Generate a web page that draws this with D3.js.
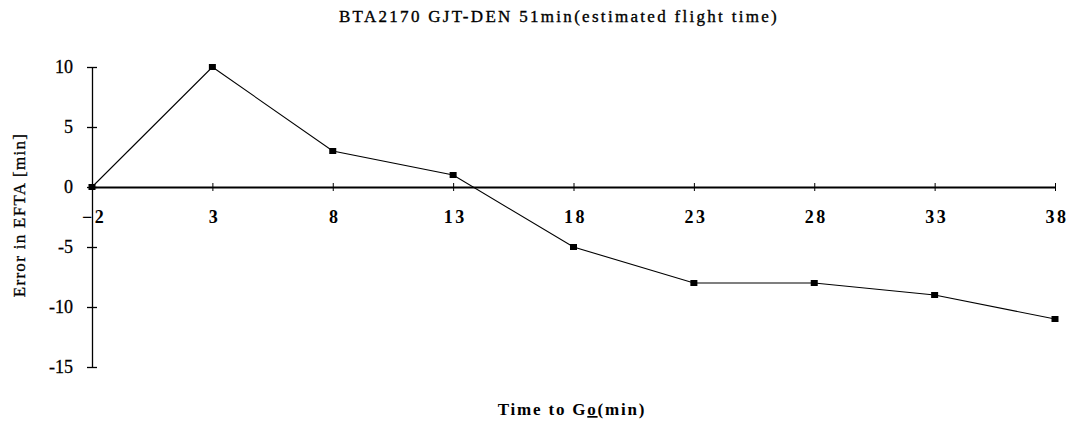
<!DOCTYPE html>
<html>
<head>
<meta charset="utf-8">
<script src="https://cdn.jsdelivr.net/npm/d3@7"></script>
<style>
  body { margin: 0; background: #fff; }
  svg { display: block; }
</style>
</head>
<body>
<div id="chart"></div>
<script>
(function () {
  'use strict';

  // ── Data ──
  var TIME_TO_GO = [-2, 3, 8, 13, 18, 23, 28, 33, 38];
  var ERROR_EFTA = [0, 10, 3, 1, -5, -8, -8, -9, -11];
  var Y_TICKS = [10, 5, 0, -5, -10, -15];

  // ── Constants ──
  var WIDTH = 1072;
  var HEIGHT = 429;
  var FONT = '"Liberation Serif", "Times New Roman", serif';
  var MARGIN = { top: 67, right: 17, bottom: 62, left: 92 };

  var svg = d3.select('#chart').append('svg')
    .attr('width', WIDTH)
    .attr('height', HEIGHT);

  var x = d3.scaleLinear().domain([-2, 38]).range([MARGIN.left, WIDTH - MARGIN.right]);
  var y = d3.scaleLinear().domain([-15, 10]).range([HEIGHT - MARGIN.bottom, MARGIN.top]);

  // ── Title ──
  svg.append('text')
    .attr('x', 559).attr('y', 22)
    .attr('text-anchor', 'middle')
    .attr('font-family', FONT).attr('font-size', 17)
    .attr('letter-spacing', 2.3)
    .attr('stroke', '#000').attr('stroke-width', 0.35)
    .text('BTA2170 GJT-DEN 51min(estimated flight time)');

  // ── Y axis ──
  var yAxis = svg.append('g')
    .attr('transform', 'translate(' + x(-2) + ',0)')
    .call(d3.axisLeft(y).tickValues(Y_TICKS).tickSize(5).tickSizeOuter(0).tickPadding(14)
      .tickFormat(d3.format('d')));
  yAxis.select('.domain').attr('stroke', '#000').attr('stroke-width', 1.3);
  yAxis.selectAll('.tick line').attr('x2', 5).attr('x1', -5).attr('stroke-width', 1.3);
  yAxis.selectAll('.tick text')
    .attr('font-family', FONT).attr('font-size', 18).attr('fill', '#000')
    .attr('stroke', '#000').attr('stroke-width', 0.3)
    .text(function (d) { return d < 0 ? '-' + Math.abs(d) : d; });

  // ── X axis on zero line ──
  var xAxis = svg.append('g')
    .attr('transform', 'translate(0,' + y(0) + ')')
    .call(d3.axisBottom(x).tickValues(TIME_TO_GO).tickSize(4).tickSizeOuter(0).tickPadding(19));
  xAxis.select('.domain').attr('stroke', '#000').attr('stroke-width', 1.8);
  xAxis.selectAll('.tick line').attr('y1', -4).attr('y2', 4).attr('stroke-width', 1);
  xAxis.selectAll('.tick text')
    .attr('font-family', FONT).attr('font-size', 18).attr('font-weight', 'bold')
    .attr('letter-spacing', 2.5).attr('dx', 1.5).attr('fill', '#000');

  // ── Line ──
  var points = TIME_TO_GO.map(function (t, i) { return [t, ERROR_EFTA[i]]; });
  svg.append('path')
    .datum(points)
    .attr('fill', 'none')
    .attr('stroke', '#000')
    .attr('stroke-width', 1.1)
    .attr('d', d3.line().x(function (d) { return x(d[0]); }).y(function (d) { return y(d[1]); }));

  // ── Markers ──
  svg.selectAll('.marker')
    .data(points)
    .join('rect')
    .attr('class', 'marker')
    .attr('x', function (d) { return x(d[0]) - 3.5; })
    .attr('y', function (d) { return y(d[1]) - 3; })
    .attr('width', 7).attr('height', 6)
    .attr('fill', '#000');

  // ── Axis titles ──
  svg.append('text')
    .attr('transform', 'translate(25,215) rotate(-90)')
    .attr('text-anchor', 'middle')
    .attr('font-family', FONT).attr('font-size', 17)
    .attr('letter-spacing', 1.3)
    .attr('stroke', '#000').attr('stroke-width', 0.3)
    .text('Error in EFTA [min]');

  var xt = svg.append('text')
    .attr('x', 572).attr('y', 415)
    .attr('text-anchor', 'middle')
    .attr('font-family', FONT).attr('font-size', 17).attr('font-weight', 'bold')
    .attr('letter-spacing', 1.8);
  xt.append('tspan').text('Time to G');
  xt.append('tspan').attr('text-decoration', 'underline').text('o');
  xt.append('tspan').text('(min)');
})();
</script>
</body>
</html>
